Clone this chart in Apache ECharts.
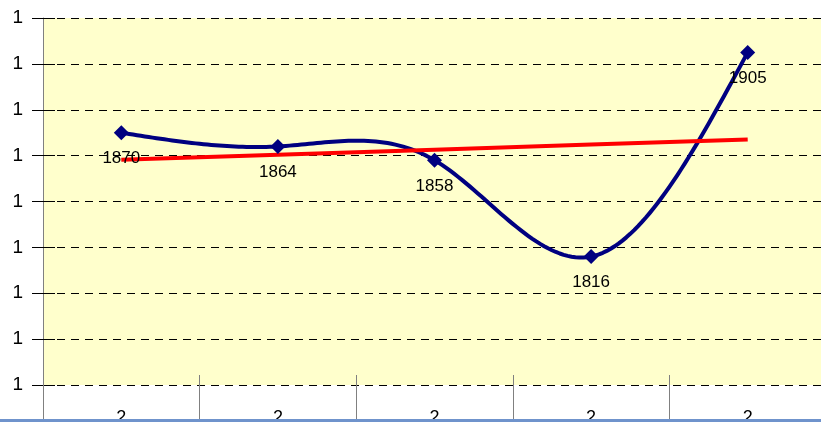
<!DOCTYPE html>
<html>
<head>
<meta charset="utf-8">
<script src="https://cdn.jsdelivr.net/npm/echarts@6/dist/echarts.min.js"></script>
<style>
  html, body { margin: 0; padding: 0; background: #ffffff; }
  #chart { width: 821px; height: 422px; }
</style>
</head>
<body>
<div id="chart"></div>
<script>
// Category labels along the bottom axis
const categories = ['2', '2', '2', '2', '2'];
// Yearly values shown by the blue curve
const values = [1870, 1864, 1858, 1816, 1905];
// Value axis range and step
const yMin = 1760;
const yMax = 1920;
const yStep = 20;

// Least-squares linear trend over the series
function linearTrend(ys) {
  const n = ys.length;
  const xs = ys.map((_, i) => i + 1);
  const mx = xs.reduce((a, b) => a + b, 0) / n;
  const my = ys.reduce((a, b) => a + b, 0) / n;
  let num = 0, den = 0;
  for (let i = 0; i < n; i++) {
    num += (xs[i] - mx) * (ys[i] - my);
    den += (xs[i] - mx) * (xs[i] - mx);
  }
  const slope = num / den;
  return xs.map(x => my + slope * (x - mx));
}
const trend = linearTrend(values);

// Second derivatives of a natural cubic spline over unit-spaced points
function splineSecondDerivs(ys) {
  const n = ys.length;
  const M = new Array(n).fill(0);
  if (n < 3) return M;
  const m = n - 2;
  const a = [], b = [], c = [], d = [];
  for (let i = 1; i <= m; i++) {
    a.push(1); b.push(4); c.push(1);
    d.push(6 * (ys[i + 1] - 2 * ys[i] + ys[i - 1]));
  }
  // Thomas algorithm
  for (let i = 1; i < m; i++) {
    const w = a[i] / b[i - 1];
    b[i] -= w * c[i - 1];
    d[i] -= w * d[i - 1];
  }
  const sol = new Array(m);
  sol[m - 1] = d[m - 1] / b[m - 1];
  for (let i = m - 2; i >= 0; i--) sol[i] = (d[i] - c[i] * sol[i + 1]) / b[i];
  for (let i = 0; i < m; i++) M[i + 1] = sol[i];
  return M;
}
const secondDerivs = splineSecondDerivs(values);

function splineAt(i, t) {
  const u = 1 - t;
  return u * values[i] + t * values[i + 1]
    + ((u * u * u - u) * secondDerivs[i] + (t * t * t - t) * secondDerivs[i + 1]) / 6;
}

const chart = echarts.init(document.getElementById('chart'), null, { renderer: 'canvas' });

const font = 'Liberation Sans, Arial, sans-serif';
const navy = '#000080';

chart.setOption({
  animation: false,
  backgroundColor: '#ffffff',
  grid: {
    show: true, backgroundColor: '#ffffcc', borderWidth: 0,
    left: 43, top: 18, right: -5, height: 367,
    outerBoundsMode: 'none', containLabel: false
  },
  xAxis: [
    {
      type: 'category',
      data: categories,
      boundaryGap: true,
      axisLine: { show: false },
      axisTick: { show: true, length: 35, lineStyle: { color: '#808080', width: 1 } },
      axisLabel: { fontFamily: font, fontSize: 18, color: '#000', margin: 24 },
      splitLine: { show: false }
    },
    {
      type: 'category',
      data: categories,
      boundaryGap: true,
      position: 'bottom',
      axisLine: { show: false },
      axisTick: { show: true, inside: true, length: 10, lineStyle: { color: '#808080', width: 1 } },
      axisLabel: { show: false },
      splitLine: { show: false }
    }
  ],
  yAxis: [
    {
      type: 'value',
      min: yMin,
      max: yMax,
      interval: yStep,
      axisLine: { show: true, lineStyle: { color: '#808080', width: 1 } },
      axisTick: { show: true, length: 11, lineStyle: { color: '#000', width: 1 } },
      axisLabel: {
        fontFamily: font, fontSize: 19, color: '#000', margin: 20,
        formatter: v => String(Math.floor(v / 1000))
      },
      splitLine: { show: true, lineStyle: { color: '#000', width: 1, type: [8, 6] } }
    },
    {
      type: 'value',
      min: yMin,
      max: yMax,
      interval: yStep,
      position: 'left',
      axisLine: { show: false },
      axisTick: { show: true, inside: true, length: 12, lineStyle: { color: '#000', width: 1 } },
      axisLabel: { show: false },
      splitLine: { show: false }
    }
  ],
  series: [
    {
      // smooth curve: one spline segment per data item
      type: 'custom',
      data: values.map((v, i) => [i, v]),
      z: 2,
      silent: true,
      renderItem: function (params, api) {
        const i = params.dataIndex;
        if (i >= values.length - 1) return null;
        const p0 = api.coord([i, values[i]]);
        const p1 = api.coord([i + 1, values[i + 1]]);
        const pts = [];
        const steps = 40;
        for (let k = 0; k <= steps; k++) {
          const t = k / steps;
          const py = api.coord([i, splineAt(i, t)])[1];
          pts.push([p0[0] + (p1[0] - p0[0]) * t, py]);
        }
        return {
          type: 'polyline',
          shape: { points: pts },
          style: { stroke: navy, lineWidth: 4, fill: null, lineJoin: 'round', lineCap: 'round' }
        };
      }
    },
    {
      type: 'line',
      data: trend,
      symbol: 'none',
      lineStyle: { color: '#ff0000', width: 4 },
      z: 3,
      silent: true
    },
    {
      // diamond markers and value labels
      type: 'line',
      data: values,
      symbol: 'diamond',
      symbolSize: 15,
      showAllSymbol: true,
      lineStyle: { opacity: 0 },
      itemStyle: { color: navy },
      label: {
        show: true,
        position: 'bottom',
        distance: 10,
        fontFamily: font,
        fontSize: 17,
        color: '#000'
      },
      z: 4
    }
  ],
  graphic: [
    {
      type: 'rect',
      left: 0,
      bottom: 0,
      shape: { width: 821, height: 3 },
      style: { fill: '#6f93cc' },
      z: 100
    }
  ]
});
</script>
</body>
</html>
